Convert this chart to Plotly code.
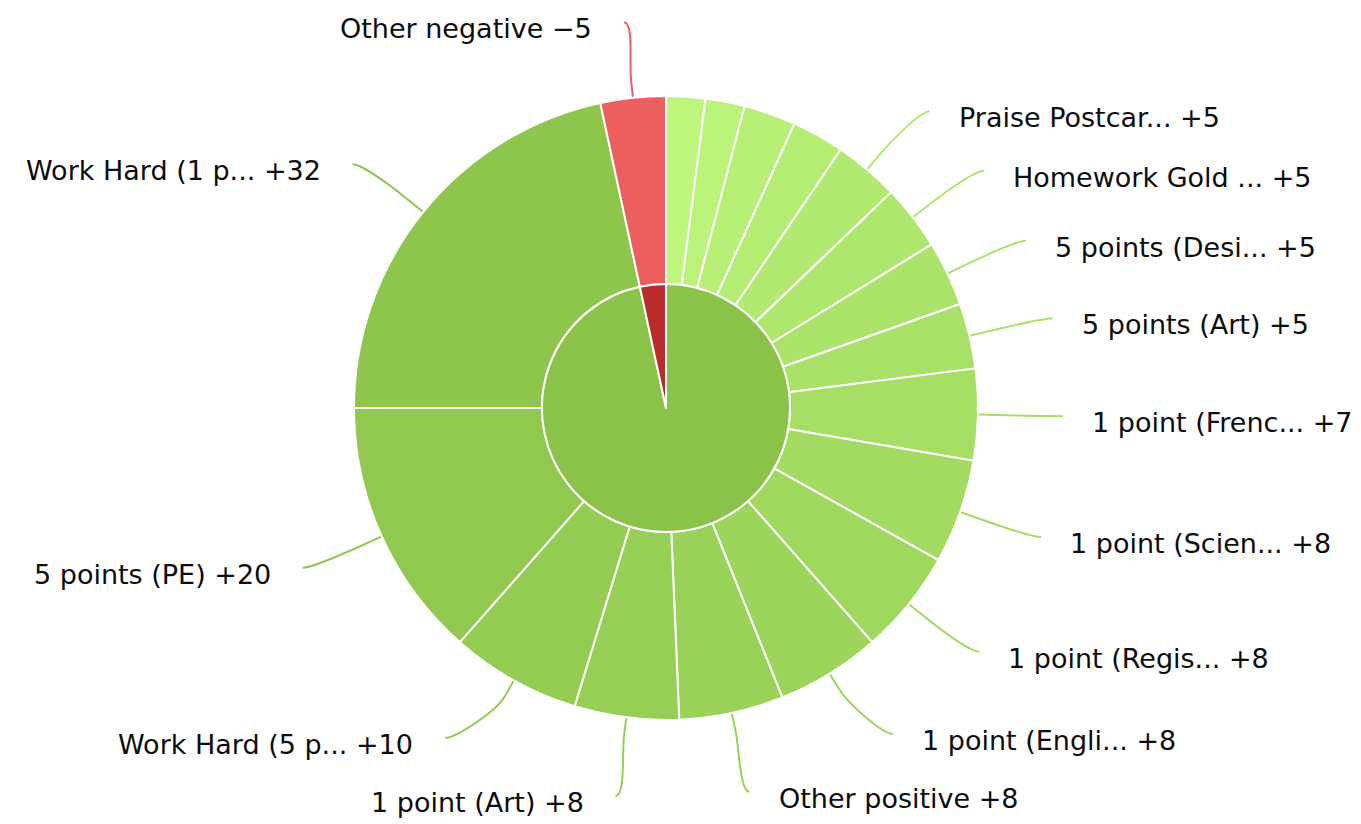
import math
import plotly.graph_objects as go

# ---------------- data ----------------
outer_names = [
    "Award A", "Award B", "Award C", "Award D",
    "Praise Postcar...", "Homework Gold ...", "5 points (Desi...", "5 points (Art)",
    "1 point (Frenc...", "1 point (Scien...", "1 point (Regis...", "1 point (Engli...",
    "Other positive", "1 point (Art)", "Work Hard (5 p...", "5 points (PE)",
    "Work Hard (1 p...", "Other negative",
]
outer_values = [3, 3, 4, 4, 5, 5, 5, 5, 7, 8, 8, 8, 8, 8, 10, 20, 32, 5]
outer_group = ["positive"] * 17 + ["negative"]
inner_names = ["positive", "negative"]
inner_values = [sum(v for v, g in zip(outer_values, outer_group) if g == n) for n in inner_names]

# ---------------- style ----------------
W, H = 1361, 824
OFF = 8            # page body margin of the html page
CX, CY = 666, 408  # page pixel coordinates
R_OUT, R_IN = 312, 124
R_NAT, R_LAB = 388, 397
SPACING = 58
Y_MIN, Y_MAX = 22, 796
GAP_R, GAP_L = 27, 30
TEXT_DY = 6.5
BRK = 18
MIN_LABEL_VALUE = 5
FONT = dict(family="DejaVu Sans", size=27, color="#0d0d0d")

base_colors = {"positive": (139, 195, 74), "negative": (186, 44, 44)}


def rgb(c):
    return "rgb(%d,%d,%d)" % tuple(max(0, min(255, int(round(v)))) for v in c)


def brighten(c, a):
    return tuple(v + 255 * a for v in c)


inner_colors = [rgb(base_colors[n]) for n in inner_names]
outer_colors = [None] * len(outer_values)
for n in inner_names:
    idx = [i for i, g in enumerate(outer_group) if g == n]
    for j, i in enumerate(idx):
        outer_colors[i] = rgb(brighten(base_colors[n], 0.2 - (j / len(idx)) / 5))


def px(x, y):
    return (x - OFF) / W, 1 - (y - OFF) / H


def dom(r):
    x0, y1 = px(CX - r, CY - r)
    x1, y0 = px(CX + r, CY + r)
    return dict(x=[x0, x1], y=[y0, y1])


fig = go.Figure()
fig.add_trace(go.Pie(
    values=outer_values, labels=outer_names, sort=False, direction="clockwise", rotation=0,
    hole=R_IN / R_OUT, domain=dom(R_OUT),
    marker=dict(colors=outer_colors, line=dict(color="white", width=2)),
    textinfo="none", hoverinfo="label+value", showlegend=False,
))
fig.add_trace(go.Pie(
    values=inner_values, labels=inner_names, sort=False, direction="clockwise", rotation=0,
    domain=dom(R_IN),
    marker=dict(colors=inner_colors, line=dict(color="white", width=2)),
    textinfo="none", hoverinfo="label+value", showlegend=False,
))

# ---------------- data labels with connectors ----------------
total = sum(outer_values)
angles = []
acc = 0
for v in outer_values:
    angles.append((acc + v / 2) / total * 360)
    acc += v

labels = []
for i, v in enumerate(outer_values):
    if v < MIN_LABEL_VALUE:
        continue
    th = math.radians(angles[i])
    half = "right" if angles[i] < 180 else "left"
    labels.append(dict(i=i, th=th, half=half, y=CY - R_NAT * math.cos(th)))

for half in ("right", "left"):
    grp = sorted([l for l in labels if l["half"] == half], key=lambda l: l["y"])
    for _ in range(300):
        for k in range(len(grp) - 1):
            d = grp[k + 1]["y"] - grp[k]["y"]
            if d < SPACING:
                s = (SPACING - d) / 2
                grp[k]["y"] -= s
                grp[k + 1]["y"] += s
        for l in grp:
            l["y"] = min(Y_MAX, max(Y_MIN, l["y"]))

shapes = []
annotations = []
for l in labels:
    i, th, y = l["i"], l["th"], l["y"]
    sgn = 1 if l["half"] == "right" else -1
    if abs(math.cos(th)) > 0.95:
        xa = CX + R_LAB * math.sin(th)
    else:
        dy = max(-R_LAB, min(R_LAB, y - CY))
        xa = CX + sgn * math.sqrt(R_LAB ** 2 - dy ** 2)
    ex, ey = CX + R_OUT * math.sin(th), CY - R_OUT * math.cos(th)
    bx, by = CX + (R_OUT + BRK) * math.sin(th), CY - (R_OUT + BRK) * math.cos(th)
    pts = [(xa, y), (xa - sgn * 10, y), (2 * bx - ex, 2 * by - ey), (bx, by), (ex, ey)]
    p = [px(*q) for q in pts]
    path = "M %f,%f C %f,%f %f,%f %f,%f L %f,%f" % (
        p[0][0], p[0][1], p[1][0], p[1][1], p[2][0], p[2][1], p[3][0], p[3][1], p[4][0], p[4][1])
    shapes.append(dict(type="path", path=path, xref="paper", yref="paper",
                       line=dict(color=outer_colors[i], width=2), layer="below"))
    v = outer_values[i]
    sign = "+" if outer_group[i] == "positive" else "\u2212"
    text = "%s %s%d" % (outer_names[i], sign, v)
    tx = xa + GAP_R if sgn > 0 else xa - GAP_L
    ax, ay = px(tx, y + TEXT_DY)
    annotations.append(dict(x=ax, y=ay, xref="paper", yref="paper", text=text, showarrow=False,
                            xanchor="left" if sgn > 0 else "right", yanchor="middle", font=FONT))

fig.update_layout(
    width=W, height=H, margin=dict(l=0, r=0, t=0, b=0),
    paper_bgcolor="white", plot_bgcolor="white", showlegend=False,
    shapes=shapes, annotations=annotations,
)
fig.write_html("out.html")
